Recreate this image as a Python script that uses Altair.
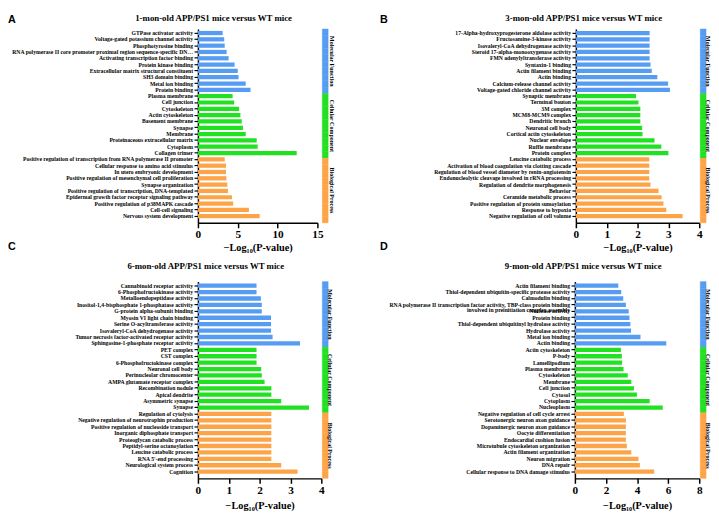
import altair as alt
import pandas as pd

FONT = "Liberation Serif"
GROUPS = ["Molecular Function", "Cellular Component", "Biological Process"]
COLORS = ["#559CF2", "#22E022", "#FDA448"]

# ---------------- Panel A: 1-mon-old ----------------
a_terms = [
    "GTPase activator activity",
    "Voltage-gated potassium channel activity",
    "Phosphotyrosine binding",
    "RNA polymerase II core promoter proximal region sequence-specific DNA binding",
    "Activating transcription factor binding",
    "Protein kinase binding",
    "Extracellular matrix structural constituent",
    "SH3 domain binding",
    "Metal ion binding",
    "Protein binding",
    "Plasma membrane",
    "Cell junction",
    "Cytoskeleton",
    "Actin cytoskeleton",
    "Basement membrane",
    "Synapse",
    "Membrane",
    "Proteinaceous extracellular matrix",
    "Cytoplasm",
    "Collagen trimer",
    "Positive regulation of transcription from RNA polymerase II promoter",
    "Cellular response to amino acid stimulus",
    "In utero embryonic development",
    "Positive regulation of mesenchymal cell proliferation",
    "Synapse organization",
    "Positive regulation of transcription, DNA-templated",
    "Epidermal growth factor receptor signaling pathway",
    "Positive regulation of p38MAPK cascade",
    "Cell-cell signaling",
    "Nervous system development",
]
a_values = [3.1, 3.3, 3.36, 3.6, 3.85, 4.6, 5.0, 5.1, 6.0, 6.6,
            4.35, 4.55, 5.17, 5.33, 5.5, 5.66, 6.0, 7.38, 7.5, 12.4,
            3.36, 3.53, 3.53, 3.57, 3.69, 3.77, 4.27, 4.43, 6.4, 7.75]
a_ticks = [0, 5, 10, 15]

# ---------------- Panel B: 3-mon-old ----------------
b_terms = [
    "17-Alpha-hydroxyprogesterone aldolase activity",
    "Fructosamine-3-kinase activity",
    "Isovaleryl-CoA dehydrogenase activity",
    "Steroid 17-alpha-monooxygenase activity",
    "FMN adenylyltransferase activity",
    "Syntaxin-1 binding",
    "Actin filament binding",
    "Actin binding",
    "Calcium-release channel activity",
    "Voltage-gated chloride channel activity",
    "Synaptic membrane",
    "Terminal bouton",
    "3M complex",
    "MCM8-MCM9 complex",
    "Dendritic branch",
    "Neuronal cell body",
    "Cortical actin cytoskeleton",
    "Nuclear envelope",
    "Ruffle membrane",
    "Protein complex",
    "Leucine catabolic process",
    "Activation of blood coagulation via clotting cascade",
    "Regulation of blood vessel diameter by renin-angiotensin",
    "Endonucleolytic cleavage involved in rRNA processing",
    "Regulation of dendrite morphogenesis",
    "Behavior",
    "Ceramide metabolic process",
    "Positive regulation of protein sumoylation",
    "Response to hypoxia",
    "Negative regulation of cell volume",
]
b_values = [2.39, 2.39, 2.39, 2.39, 2.39, 2.42, 2.46, 2.64, 2.99, 3.05,
            1.95, 2.03, 2.09, 2.09, 2.09, 2.15, 2.16, 2.55, 2.77, 3.0,
            2.38, 2.38, 2.38, 2.38, 2.42, 2.68, 2.78, 2.84, 2.93, 3.46]
b_ticks = [0, 1, 2, 3, 4]

# ---------------- Panel C: 6-mon-old ----------------
c_terms = [
    "Cannabinoid receptor activity",
    "6-Phosphofructokinase activity",
    "Metalloendopeptidase activity",
    "Inositol-1,4-bisphosphate 1-phosphatase activity",
    "G-protein alpha-subunit binding",
    "Myosin VI light chain binding",
    "Serine O-acyltransferase activity",
    "Isovaleryl-CoA dehydrogenase activity",
    "Tumor necrosis factor-activated receptor activity",
    "Sphingosine-1-phosphate receptor activity",
    "PET complex",
    "CST complex",
    "6-Phosphofructokinase complex",
    "Neuronal cell body",
    "Perinucleolar chromocenter",
    "AMPA glutamate receptor complex",
    "Recombination nodule",
    "Apical dendrite",
    "Asymmetric synapse",
    "Synapse",
    "Regulation of cytolysis",
    "Negative regulation of neurotrophin production",
    "Positive regulation of nucleoside transport",
    "Inorganic diphosphate transport",
    "Proteoglycan catabolic process",
    "Peptidyl-serine octanoylation",
    "Leucine catabolic process",
    "RNA 5'-end processing",
    "Neurological system process",
    "Cognition",
]
c_values = [1.9, 1.9, 2.04, 2.07, 2.07, 2.37, 2.37, 2.37, 2.42, 3.31,
            1.9, 1.9, 1.9, 2.05, 2.07, 2.16, 2.38, 2.38, 2.7, 3.6,
            2.38, 2.38, 2.38, 2.38, 2.38, 2.38, 2.38, 2.38, 2.7, 3.23]
c_ticks = [0, 1, 2, 3, 4]

# ---------------- Panel D: 9-mon-old ----------------
d_terms = [
    "Actin filament binding",
    "Thiol-dependent ubiquitin-specific protease activity",
    "Calmodulin binding",
    "RNA polymerase II transcription factor activity, TBP-class protein binding|involved in preinitiation complex assembly",
    "Nuclease activity",
    "Protein binding",
    "Thiol-dependent ubiquitinyl hydrolase activity",
    "Hydrolase activity",
    "Metal ion binding",
    "Actin binding",
    "Actin cytoskeleton",
    "P-body",
    "Lamellipodium",
    "Plasma membrane",
    "Cytoskeleton",
    "Membrane",
    "Cell junction",
    "Cytosol",
    "Cytoplasm",
    "Nucleoplasm",
    "Negative regulation of cell cycle arrest",
    "Serotonergic neuron axon guidance",
    "Dopaminergic neuron axon guidance",
    "Oocyte differentiation",
    "Endocardial cushion fusion",
    "Microtubule cytoskeleton organization",
    "Actin filament organization",
    "Neuron migration",
    "DNA repair",
    "Cellular response to DNA damage stimulus",
]
d_values = [2.79, 2.98, 3.11, 3.28, 3.46, 3.51, 3.57, 3.61, 4.22, 5.88,
            2.96, 3.02, 3.04, 3.13, 3.4, 3.63, 3.8, 3.99, 4.81, 5.65,
            3.15, 3.28, 3.28, 3.28, 3.28, 3.34, 3.63, 4.09, 4.18, 5.1]
d_ticks = [0, 2, 4, 6, 8]


def make_panel(terms, values, title, xmax, xticks, extent, width, height,
               band_off, label_gap, title_dx, title_offset, title_dy,
               x_title_pad, letters):
    groups = [GROUPS[i // 10] for i in range(len(terms))]
    df = pd.DataFrame({"term": terms, "value": values, "group": groups})
    color = alt.Color("group:N", scale=alt.Scale(domain=GROUPS, range=COLORS),
                      legend=None)
    bars = alt.Chart(df).mark_bar().encode(
        x=alt.X("value:Q",
                scale=alt.Scale(domain=[0, xmax], nice=False, zero=True),
                axis=alt.Axis(values=xticks, title="−Log₁₀(P-value)",
                              titleFont=FONT, titleFontSize=10.5,
                              titleFontWeight="bold", titleColor="black",
                              titlePadding=x_title_pad, labelFont=FONT,
                              labelFontSize=11.5, labelFontWeight="bold",
                              labelColor="black", labelPadding=1,
                              tickSize=5, tickColor="black", tickWidth=1.5,
                              domainColor="black", domainWidth=1.5,
                              grid=False, labelFlush=False)),
        y=alt.Y("term:N", sort=terms,
                scale=alt.Scale(domain=terms, paddingInner=0.33,
                                paddingOuter=0.51, align=0.3),
                axis=alt.Axis(title=None, labelFont=FONT, labelFontSize=5.8,
                              labelFontWeight="bold", labelColor="black",
                              labelLimit=extent - 5.5, labelPadding=1.5,
                              tickSize=4, tickColor="black", tickWidth=1.2,
                              domainColor="black", domainWidth=1.5,
                              minExtent=extent, maxExtent=extent,
                              labelLineHeight=4.8,
                              labelExpr="split(datum.label, '|')")),
        color=color,
    )
    band_scale = alt.Scale(domain=terms, paddingInner=0, paddingOuter=0)
    band = alt.Chart(df).mark_rect(strokeWidth=0.4).encode(
        x=alt.value(width + band_off), x2=alt.value(width + band_off + 6),
        y=alt.Y("term:N", scale=band_scale, axis=None),
        color=color,
        stroke=alt.Stroke("group:N",
                          scale=alt.Scale(domain=GROUPS, range=COLORS),
                          legend=None),
    )
    lab_df = pd.DataFrame({"term": [terms[4], terms[14], terms[24]],
                           "label": GROUPS})
    step = height / len(terms)
    labels = alt.Chart(lab_df).mark_text(
        angle=90, font=FONT, fontSize=6.1, fontWeight="bold",
        align="center", baseline="middle", dx=step / 2, color="black",
    ).encode(
        x=alt.value(width + band_off + label_gap),
        y=alt.Y("term:N", scale=alt.Scale(domain=terms, paddingInner=0,
                                          paddingOuter=0), axis=None),
        text="label:N",
    )
    layers = [bars, band, labels]
    for (txt, lx, ly) in letters:
        layers.append(
            alt.Chart(pd.DataFrame({"t": [txt]})).mark_text(
                font="Liberation Sans", fontSize=11, fontWeight="bold",
                align="left", baseline="top", color="black",
            ).encode(text="t:N", x=alt.value(lx), y=alt.value(ly))
        )
    return alt.layer(*layers).resolve_scale(y="independent").properties(
        width=width, height=height,
        title=alt.TitleParams(title, font=FONT, fontSize=9,
                              fontWeight="bold", color="black", dx=title_dx,
                              dy=title_dy, anchor="middle", frame="group",
                              offset=title_offset),
    )


H_TOP = 198
H_BOT = 201

pA = make_panel(a_terms, a_values, "1-mon-old APP/PS1 mice versus WT mice",
                15, a_ticks, 194, 122, H_TOP, 5, 10, -45, 0, 8.5, 3,
                [("A", -194, -15), ("C", -194, H_TOP + 19)])
pB = make_panel(b_terms, b_values, "3-mon-old APP/PS1 mice versus WT mice",
                4, b_ticks, 200, 126, H_TOP, 1, 8, -55, 0, 8.5, 3,
                [("B", -200, -15), ("D", -200, H_TOP + 19)])
pC = make_panel(c_terms, c_values, "6-mon-old APP/PS1 mice versus WT mice",
                4, c_ticks, 192, 126, H_BOT, 1, 8, -55, 10.5, 0, 5, [])
pD = make_panel(d_terms, d_values, "9-mon-old APP/PS1 mice versus WT mice",
                8, d_ticks, 200, 127, H_BOT, 1, 8, -55, 10.5, 0, 5, [])

top = alt.hconcat(pA, pB, spacing=45)
bottom = alt.hconcat(pC, pD, spacing=46)
chart = alt.vconcat(top, bottom, spacing=9).properties(
    padding=0
).configure_view(stroke=None)

chart.save("out.html", embed_options={"renderer": "svg", "actions": False})
